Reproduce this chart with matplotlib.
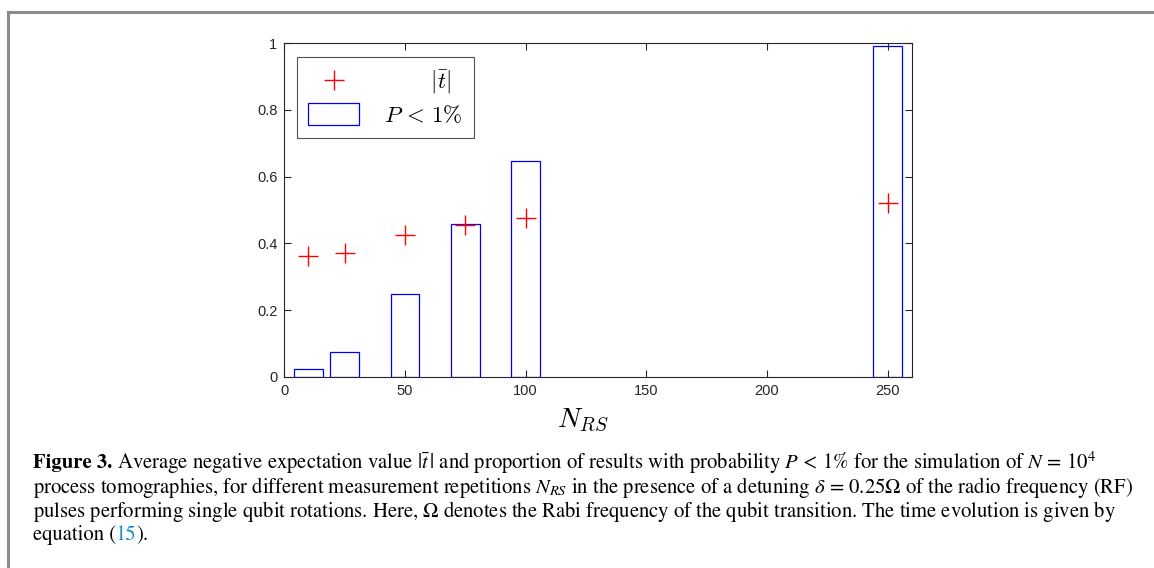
import matplotlib
matplotlib.use('Agg')
import matplotlib.pyplot as plt
from matplotlib.font_manager import FontProperties
from matplotlib.lines import Line2D
from matplotlib.ticker import FuncFormatter

# measurement repetitions N_RS
n_rs = [10, 25, 50, 75, 100, 250]
# proportion of results with P < 1%
p_low = [0.022, 0.075, 0.249, 0.459, 0.648, 0.991]
# average negative expectation value |t|
t_abs = [0.363, 0.370, 0.426, 0.455, 0.477, 0.522]

xticks = [0, 50, 100, 150, 200, 250]
yticks = [0, 0.2, 0.4, 0.6, 0.8, 1]

dark = '#262626'
plt.rcParams['font.family'] = ['Liberation Sans', 'DejaVu Sans']

fig = plt.figure(figsize=(11.54, 5.68), dpi=100)
ax = fig.add_axes([0.2464, 0.3368, 0.5437, 0.587])

bars = ax.bar(n_rs, p_low, width=12, facecolor='none', edgecolor='#0000ff',
              linewidth=0.9, zorder=2)
pts, = ax.plot(n_rs, t_abs, linestyle='none', marker='+', color='#ff0000',
               markersize=14, markeredgewidth=1.0, zorder=3)

ax.set_xlim(0, 260)
ax.set_ylim(0, 1)
ax.set_xticks(xticks)
ax.set_yticks(yticks)
ax.yaxis.set_major_formatter(FuncFormatter(lambda v, p: '%g' % v))
ax.tick_params(direction='in', length=5, width=0.8, colors=dark,
               labelsize=10.5, top=True, right=True, pad=5)
ax.tick_params(axis='x', labeltop=False)
for s in ax.spines.values():
    s.set_color(dark)
    s.set_linewidth(0.8)

ax.set_xlabel(r'$N_{RS}$', fontsize=20, math_fontfamily='cm', color='black')
ax.xaxis.set_label_coords(0.475, -0.092)

labels = [r'$\ \ \ \ \ \ \ |\bar{t}|$', r'$P\,<\,1\%$']
leg = ax.legend([pts, bars], labels, loc='upper left',
                bbox_to_anchor=(0.02, 0.958), borderaxespad=0,
                prop=FontProperties(size=16.5, math_fontfamily='cm'),
                frameon=True, fancybox=False, edgecolor=dark,
                handlelength=2.2, handleheight=1.05, handletextpad=1.1,
                borderpad=0.5, labelspacing=0.3)
leg.get_frame().set_linewidth(0.8)

# page frame (top and left rule)
fig.add_artist(Line2D([0.007, 1.0], [0.978, 0.978], color='#8c8c8c', lw=2.2))
fig.add_artist(Line2D([0.007, 0.007], [0.0, 0.978], color='#8c8c8c', lw=2.2))

# caption
cap_size = 14.9
blue = '#1a8ccc'
lines = [
    [('Figure 3.', 'bold', 'black'),
     (r' Average negative expectation value $|\bar{t}\,|$ and proportion of results with probability $P\,<\,1\%$ for the simulation of $N\,=\,10^4$', 'normal', 'black')],
    [(r'process tomographies, for different measurement repetitions $N_{RS}$ in the presence of a detuning $\delta\,=\,0.25\Omega$ of the radio frequency (RF)', 'normal', 'black')],
    [(r'pulses performing single qubit rotations. Here, $\Omega$ denotes the Rabi frequency of the qubit transition. The time evolution is given by', 'normal', 'black')],
    [('equation (', 'normal', 'black'), ('15', 'normal', blue), (').', 'normal', 'black')],
]
line_y = [463, 487, 511, 535]

fig.canvas.draw()
renderer = fig.canvas.get_renderer()
for segs, yy in zip(lines, line_y):
    x = 33
    for txt, wt, col in segs:
        t = fig.text(x / 1154, 1 - yy / 568, txt, fontsize=cap_size,
                     family='STIXGeneral', math_fontfamily='stix',
                     weight=wt, color=col, va='center', ha='left')
        bb = t.get_window_extent(renderer)
        x += bb.width

fig.savefig('out.png', dpi=100)
